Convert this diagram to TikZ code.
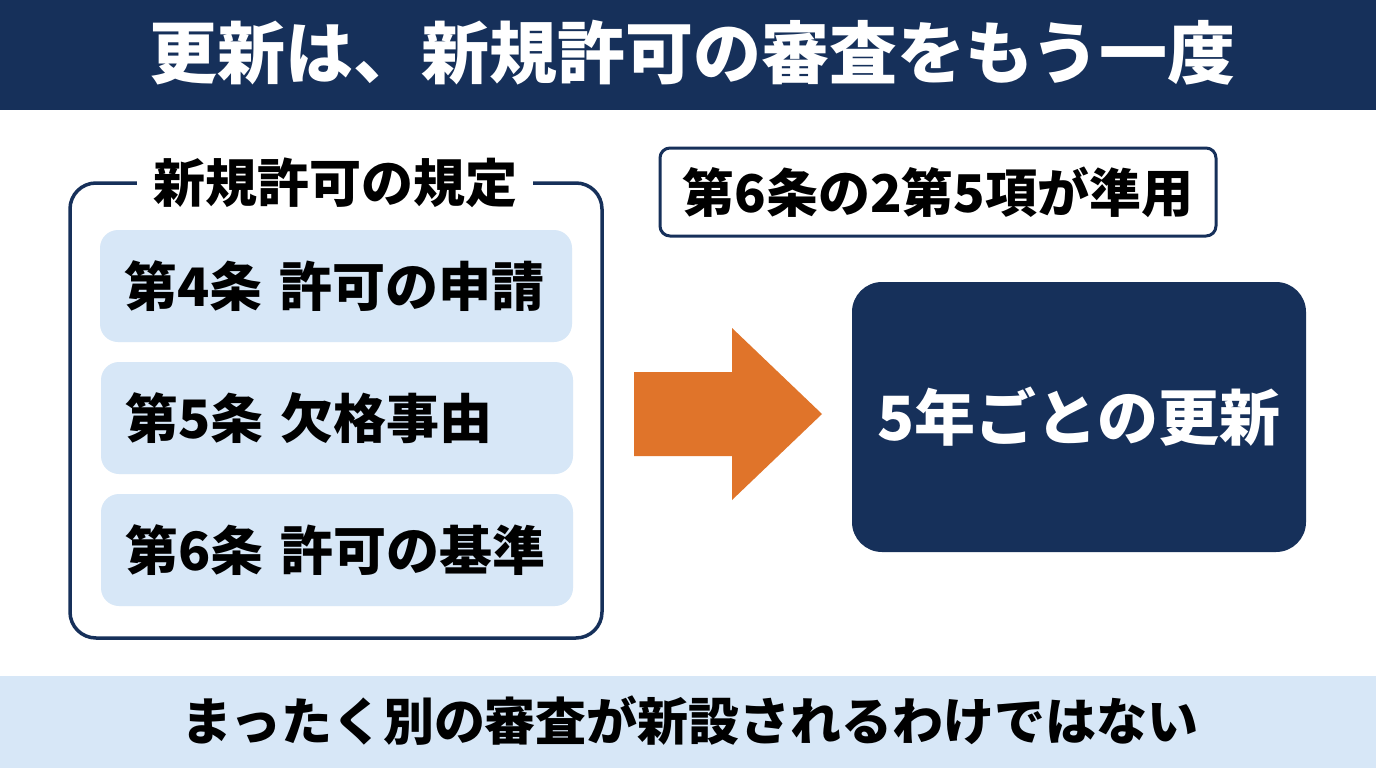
\documentclass[tikz,border=0pt]{standalone}
\usepackage{fontspec}
\setmainfont{Noto Sans CJK JP}
\definecolor{navy}{HTML}{16305A}
\definecolor{lblue}{HTML}{D7E7F7}
\definecolor{orng}{HTML}{E0742A}
\newcommand{\fsz}[1]{\fontsize{#1}{#1}\selectfont}
\tikzset{
  itembox/.style={fill=lblue, rounded corners=18pt, minimum width=472pt, minimum height=112pt,
    text width=424pt, inner xsep=24pt, align=left, font=\fsz{53}\bfseries, text=black},
}
\begin{document}
\begin{tikzpicture}[x=1pt,y=-1pt]
\useasboundingbox (0,0) rectangle (1376,768);
\fill[white] (0,0) rectangle (1376,768);
% header
\node[fill=navy, minimum width=1376pt, minimum height=110pt, inner sep=0pt, anchor=north west] (header) at (0,0) {};
\node[text=white, font=\fsz{68}\bfseries] (title) at (692,53) {更新は、新規許可の審査をもう一度};
% footer
\node[fill=lblue, minimum width=1376pt, minimum height=92pt, inner sep=0pt, anchor=north west] (footer) at (0,676) {};
\node[text=black, font=\fsz{51}\bfseries] (foot) at (690,721) {まったく別の審査が新設されるわけではない};
% left frame
\node[draw=navy, line width=3.5pt, rounded corners=26pt, minimum width=532pt, minimum height=455pt, inner sep=0pt] (frame) at (336,410.5) {};
\node[fill=white, inner xsep=16pt, font=\fsz{52}\bfseries] (ftitle) at (335,183) {新規許可の規定};
\node[itembox] (a4) at (336,286) {第4条 許可の申請};
\node[itembox] (a5) at (337,418) {第5条 欠格事由};
\node[itembox] (a6) at (337,550) {第6条 許可の基準};
% top right box
\node[draw=navy, line width=3pt, rounded corners=10pt, fill=white, minimum width=556pt, minimum height=88pt, font=\fsz{52}\bfseries] (rule) at (938,192) {第6条の2第5項が準用};
% arrow
\fill[orng] (634,372) -- (732,372) -- (732,328) -- (822,414) -- (732,500) -- (732,456) -- (634,456) -- cycle;
% navy box
\node[fill=navy, rounded corners=30pt, minimum width=454pt, minimum height=270pt, text=white, font=\fsz{61}\bfseries] (renew) at (1079,417) {5年ごとの更新};
\end{tikzpicture}
\end{document}
